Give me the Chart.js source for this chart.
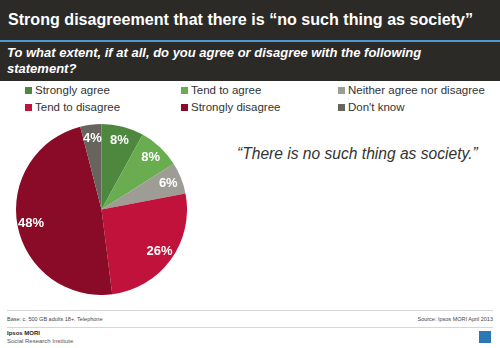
<!DOCTYPE html>
<html>
<head>
<meta charset="utf-8">
<script src="https://cdn.jsdelivr.net/npm/chart.js@4"></script>
<style>
body{margin:0;width:500px;height:348px;overflow:hidden;background:#fff;font-family:"Liberation Sans",Arial,sans-serif;position:relative}
#head{position:absolute;left:0;top:0;width:500px;height:81px;background:#2b2a27}
#title{position:absolute;left:8px;top:10px;color:#fff;font-weight:bold;font-size:16.1px;white-space:nowrap}
#bar{position:absolute;left:0;top:40px;width:500px;height:2px;background:#4f9ad3}
#sub{position:absolute;left:7px;top:45px;color:#fff;font-weight:bold;font-style:italic;font-size:13px;line-height:16px;width:470px}
#legend{position:absolute;left:25px;top:84px}
.li{position:absolute;white-space:nowrap;font-size:11.5px;color:#333}
.li span{display:inline-block;width:7px;height:7px;margin-right:3px;vertical-align:0px}
#quote{position:absolute;left:237px;top:145px;font-style:italic;font-size:15.6px;color:#333;white-space:nowrap}
#pie{position:absolute;left:16px;top:124px}
.ln{position:absolute;left:7px;width:486px;height:1px;background:#d6d6d6}
.sm{position:absolute;font-size:5.5px;color:#444;white-space:nowrap}
</style>
</head>
<body>
<div id="head">
  <div id="title">Strong disagreement that there is “no such thing as society”</div>
  <div id="bar"></div>
  <div id="sub">To what extent, if at all, do you agree or disagree with the following statement?</div>
</div>
<div id="legend"></div>
<div id="quote">“There is no such thing as society.”</div>
<canvas id="pie" width="171" height="171"></canvas>
<div class="ln" style="top:310px"></div>
<div class="sm" style="left:7px;top:316px">Base: c. 500 GB adults 18+. Telephone</div>
<div class="sm" style="right:7px;top:316px">Source: Ipsos MORI April 2013</div>
<div class="ln" style="top:327px"></div>
<div class="sm" style="left:7px;top:330px;font-weight:bold;font-size:6px;color:#222">Ipsos MORI</div>
<div class="sm" style="left:7px;top:338px;font-size:6px;color:#555">Social Research Institute</div>
<div style="position:absolute;left:479px;top:331px;width:12px;height:12px;background:#2a79b5"></div>
<script>
const categories = ['Strongly agree','Tend to agree','Neither agree nor disagree','Tend to disagree','Strongly disagree',"Don't know"];
const values = [8, 8, 6, 26, 48, 4];
const colors = ['#4e873e','#6aad50','#9e9d95','#c0123a','#8a0b27','#67635d'];
// legend order: 3 columns, 2 rows
const legendCols = [25, 181, 338];
const leg = document.getElementById('legend');
categories.forEach(function(c, i){
  const d = document.createElement('div');
  d.className = 'li';
  d.style.left = (legendCols[i % 3] - 25) + 'px';
  d.style.top = (Math.floor(i / 3) * 17) + 'px';
  d.innerHTML = '<span style="background:' + colors[i] + '"></span>' + c;
  leg.appendChild(d);
});

const labelPlugin = {
  id: 'pctLabels',
  afterDatasetsDraw(chart){
    const ctx = chart.ctx;
    const meta = chart.getDatasetMeta(0);
    ctx.save();
    ctx.font = 'bold 13px "Liberation Sans", Arial, sans-serif';
    ctx.fillStyle = '#fff';
    ctx.textAlign = 'center';
    ctx.textBaseline = 'middle';
    meta.data.forEach(function(arc, i){
      const p = arc.getProps(['x','y','startAngle','endAngle','outerRadius']);
      const a = (p.startAngle + p.endAngle) / 2;
      const r = p.outerRadius * 0.84;
      ctx.fillText(values[i] + '%', p.x + Math.cos(a) * r, p.y + Math.sin(a) * r);
    });
    ctx.restore();
  }
};

new Chart(document.getElementById('pie'), {
  type: 'pie',
  data: {
    labels: categories,
    datasets: [{
      data: values,
      backgroundColor: colors,
      borderWidth: 0
    }]
  },
  options: {
    responsive: false,
    animation: false,
    plugins: {
      legend: { display: false },
      tooltip: { enabled: false }
    }
  },
  plugins: [labelPlugin]
});
</script>
</body>
</html>
